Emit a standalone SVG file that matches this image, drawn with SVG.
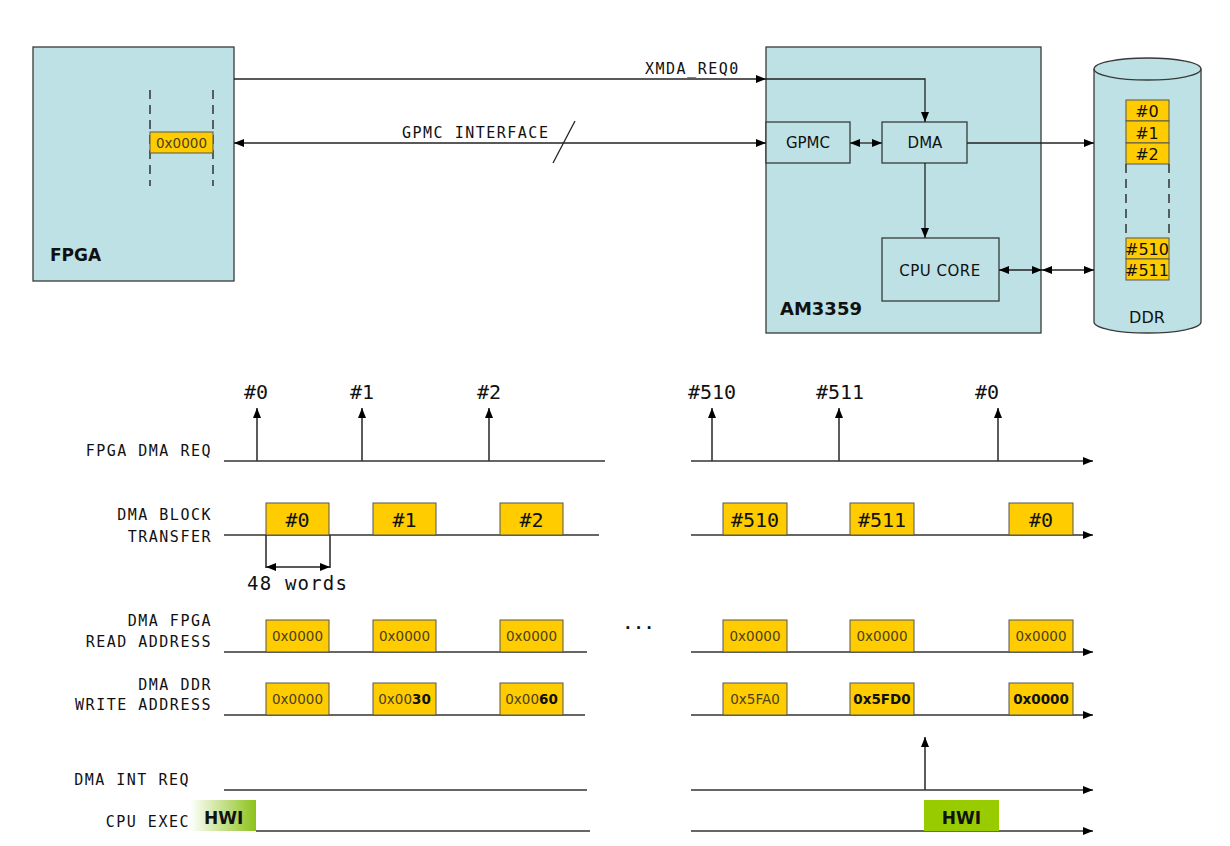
<svg xmlns="http://www.w3.org/2000/svg" width="1230" height="846" viewBox="0 0 1230 846">
<defs>
<marker id="ah" viewBox="0 0 10 8" refX="10" refY="4" markerWidth="10" markerHeight="8" markerUnits="userSpaceOnUse" orient="auto-start-reverse"><path d="M0,0 L10,4 L0,8 z" fill="#000"/></marker>
<linearGradient id="hwiL" x1="0" y1="0" x2="1" y2="0"><stop offset="0" stop-color="#ffffff"/><stop offset="1" stop-color="#8cc21a"/></linearGradient>
</defs>
<style>
.blk{fill:#bde1e4;stroke:#3a3a3a;stroke-width:1.3}
.yel{fill:#ffcc00;stroke:#555;stroke-width:1}
.ln{stroke:#222;stroke-width:1.3;fill:none}
.tl{stroke:#333;stroke-width:1.6;fill:none}
.m{font-family:"DejaVu Sans Mono",monospace;font-size:15px;letter-spacing:1.5px;fill:#111}
.b{font-family:"DejaVu Sans","Noto Sans",sans-serif;font-weight:bold;fill:#111}
.s{font-family:"DejaVu Sans","Noto Sans",sans-serif;fill:#111}
.n{font-family:"DejaVu Sans Mono",monospace;font-size:20px;fill:#111;text-anchor:middle}
.hx{font-family:"DejaVu Sans","Noto Sans",sans-serif;font-size:13.5px;fill:#4a4020;text-anchor:middle}
.hb{font-weight:bold;fill:#111}
.r{text-anchor:end}
.c{text-anchor:middle}
.big{font-size:19px;letter-spacing:1.2px}
.dots{font-size:16px;font-weight:bold;letter-spacing:1px}
</style>
<rect width="1230" height="846" fill="#fff"/>

<g id="fpga">
<rect class="blk" x="33" y="47" width="201" height="234"/>
<line x1="150" y1="90" x2="150" y2="186" stroke="#333" stroke-width="1.5" stroke-dasharray="9,6"/>
<line x1="213" y1="90" x2="213" y2="186" stroke="#333" stroke-width="1.5" stroke-dasharray="9,6"/>
<rect class="yel" x="150" y="132" width="63" height="21"/>
<text class="hx" x="181.5" y="147.5">0x0000</text>
<text class="b" x="50" y="261" font-size="17">FPGA</text>
</g>

<g id="am3359">
<rect class="blk" x="766" y="47" width="275" height="286"/>
<text class="b" x="780" y="315" font-size="18">AM3359</text>
</g>
<g id="gpmc">
<rect class="blk" x="766" y="122" width="84" height="41"/>
<text class="s c" x="808" y="148" font-size="15">GPMC</text>
</g>
<g id="dma">
<rect class="blk" x="882" y="122" width="85" height="41"/>
<text class="s c" x="925" y="148" font-size="15">DMA</text>
</g>
<g id="cpucore">
<rect class="blk" x="882" y="238" width="117" height="63"/>
<text class="s c" x="940" y="276" font-size="15" letter-spacing="0.5">CPU  CORE</text>
</g>

<g id="ddr">
<path class="blk" d="M1094,69 L1094,322 A53.5,11 0 0 0 1201,322 L1201,69"/>
<ellipse class="blk" cx="1147.5" cy="69" rx="53.5" ry="11"/>
<rect class="yel" x="1126" y="100" width="43" height="21"/>
<rect class="yel" x="1126" y="121" width="43" height="22"/>
<rect class="yel" x="1126" y="143" width="43" height="21"/>
<line x1="1126" y1="164" x2="1126" y2="238" stroke="#333" stroke-width="1.5" stroke-dasharray="9,6"/>
<line x1="1169" y1="164" x2="1169" y2="238" stroke="#333" stroke-width="1.5" stroke-dasharray="9,6"/>
<rect class="yel" x="1126" y="238" width="43" height="21"/>
<rect class="yel" x="1126" y="259" width="43" height="21"/>
<text class="s c" x="1147" y="117" font-size="16">#0</text>
<text class="s c" x="1147" y="139" font-size="16">#1</text>
<text class="s c" x="1147" y="160" font-size="16">#2</text>
<text class="s c" x="1147" y="255" font-size="16">#510</text>
<text class="s c" x="1147" y="276" font-size="16">#511</text>
<text class="s c" x="1147" y="323" font-size="16">DDR</text>
</g>

<g id="connectors">
<line class="ln" x1="234" y1="79" x2="766" y2="79" marker-end="url(#ah)"/>
<polyline class="ln" points="766,79 925,79 925,122" marker-end="url(#ah)"/>
<text class="m" x="645" y="74">XMDA_REQ0</text>
<line class="ln" x1="234" y1="143" x2="766" y2="143" marker-start="url(#ah)" marker-end="url(#ah)"/>
<text class="m" x="402" y="138">GPMC INTERFACE</text>
<line class="ln" x1="553" y1="163" x2="575" y2="121"/>
<line class="ln" x1="850" y1="143" x2="882" y2="143" marker-start="url(#ah)" marker-end="url(#ah)"/>
<line class="ln" x1="967" y1="143" x2="1094" y2="143" marker-end="url(#ah)"/>
<line class="ln" x1="925" y1="163" x2="925" y2="238" marker-end="url(#ah)"/>
<line class="ln" x1="999" y1="270" x2="1042" y2="270" marker-start="url(#ah)" marker-end="url(#ah)"/>
<line class="ln" x1="1042" y1="270" x2="1094" y2="270" marker-start="url(#ah)" marker-end="url(#ah)"/>
</g>

<g id="timing-labels">
<text class="m r" x="212" y="456">FPGA DMA REQ</text>
<text class="m r" x="212" y="520">DMA BLOCK</text>
<text class="m r" x="212" y="542">TRANSFER</text>
<text class="m r" x="212" y="626">DMA FPGA</text>
<text class="m r" x="212" y="647">READ ADDRESS</text>
<text class="m r" x="212" y="690">DMA DDR</text>
<text class="m r" x="212" y="710">WRITE ADDRESS</text>
<text class="m r" x="190" y="785">DMA INT REQ</text>
<text class="m r" x="190" y="827">CPU EXEC</text>
<text class="m dots" x="623" y="629">...</text>
</g>

<g id="timing-lines">
<line class="tl" x1="224" y1="461" x2="605" y2="461"/>
<line class="tl" x1="691" y1="461" x2="1093" y2="461" marker-end="url(#ah)"/>
<line class="tl" x1="224" y1="535" x2="599" y2="535"/>
<line class="tl" x1="691" y1="535" x2="1093" y2="535" marker-end="url(#ah)"/>
<line class="tl" x1="224" y1="652" x2="587" y2="652"/>
<line class="tl" x1="691" y1="652" x2="1093" y2="652" marker-end="url(#ah)"/>
<line class="tl" x1="224" y1="715" x2="585" y2="715"/>
<line class="tl" x1="691" y1="715" x2="1093" y2="715" marker-end="url(#ah)"/>
<line class="tl" x1="224" y1="790" x2="587" y2="790"/>
<line class="tl" x1="691" y1="790" x2="1093" y2="790" marker-end="url(#ah)"/>
<line class="tl" x1="256" y1="831" x2="590" y2="831"/>
<line class="tl" x1="691" y1="831" x2="1093" y2="831" marker-end="url(#ah)"/>
</g>

<g id="dma-req">
<line class="tl" x1="257" y1="461" x2="257" y2="408" marker-end="url(#ah)"/>
<line class="tl" x1="362" y1="461" x2="362" y2="408" marker-end="url(#ah)"/>
<line class="tl" x1="489" y1="461" x2="489" y2="408" marker-end="url(#ah)"/>
<line class="tl" x1="712" y1="461" x2="712" y2="408" marker-end="url(#ah)"/>
<line class="tl" x1="839" y1="461" x2="839" y2="408" marker-end="url(#ah)"/>
<line class="tl" x1="998" y1="461" x2="998" y2="408" marker-end="url(#ah)"/>
<text class="n" x="256" y="399">#0</text>
<text class="n" x="362" y="399">#1</text>
<text class="n" x="489" y="399">#2</text>
<text class="n" x="712" y="399">#510</text>
<text class="n" x="840" y="399">#511</text>
<text class="n" x="987" y="399">#0</text>
</g>

<g id="block-transfer">
<rect class="yel" x="266" y="503" width="63" height="32"/>
<rect class="yel" x="373" y="503" width="63" height="32"/>
<rect class="yel" x="500" y="503" width="63" height="32"/>
<rect class="yel" x="723" y="503" width="64" height="32"/>
<rect class="yel" x="850" y="503" width="64" height="32"/>
<rect class="yel" x="1009" y="503" width="64" height="32"/>
<text class="n" x="297.5" y="527">#0</text>
<text class="n" x="404.5" y="527">#1</text>
<text class="n" x="531.5" y="527">#2</text>
<text class="n" x="755" y="527">#510</text>
<text class="n" x="882" y="527">#511</text>
<text class="n" x="1041" y="527">#0</text>
<line class="tl" x1="266" y1="535" x2="266" y2="568" stroke-width="1.3"/>
<line class="tl" x1="330" y1="535" x2="330" y2="568" stroke-width="1.3"/>
<line class="ln" x1="266" y1="567" x2="330" y2="567" marker-start="url(#ah)" marker-end="url(#ah)"/>
<text class="m big" x="247" y="590">48 words</text>
</g>

<g id="read-address">
<rect class="yel" x="266" y="620" width="63" height="32"/>
<rect class="yel" x="373" y="620" width="63" height="32"/>
<rect class="yel" x="500" y="620" width="63" height="32"/>
<rect class="yel" x="723" y="620" width="64" height="32"/>
<rect class="yel" x="850" y="620" width="64" height="32"/>
<rect class="yel" x="1009" y="620" width="64" height="32"/>
<text class="hx" x="297.5" y="640.5">0x0000</text>
<text class="hx" x="404.5" y="640.5">0x0000</text>
<text class="hx" x="531.5" y="640.5">0x0000</text>
<text class="hx" x="755" y="640.5">0x0000</text>
<text class="hx" x="882" y="640.5">0x0000</text>
<text class="hx" x="1041" y="640.5">0x0000</text>
</g>

<g id="write-address">
<rect class="yel" x="266" y="683" width="63" height="32"/>
<rect class="yel" x="373" y="683" width="63" height="32"/>
<rect class="yel" x="500" y="683" width="63" height="32"/>
<rect class="yel" x="723" y="683" width="64" height="32"/>
<rect class="yel" x="850" y="683" width="64" height="32"/>
<rect class="yel" x="1009" y="683" width="64" height="32"/>
<text class="hx" x="297.5" y="704">0x0000</text>
<text class="hx" x="404.5" y="704">0x00<tspan class="hb">30</tspan></text>
<text class="hx" x="531.5" y="704">0x00<tspan class="hb">60</tspan></text>
<text class="hx" x="755" y="704">0x5FA0</text>
<text class="hx hb" x="882" y="704">0x5FD0</text>
<text class="hx hb" x="1041" y="704">0x0000</text>
</g>

<g id="int-req">
<line class="tl" x1="925" y1="790" x2="925" y2="737" marker-end="url(#ah)"/>
</g>

<g id="cpu-exec">
<rect x="190" y="800" width="66" height="31" fill="url(#hwiL)"/>
<text class="b" x="204" y="824" font-size="17">HWI</text>
<rect x="924" y="800" width="75" height="31" fill="#99cc00"/>
<text class="b c" x="961.5" y="824" font-size="17">HWI</text>
</g>
</svg>
